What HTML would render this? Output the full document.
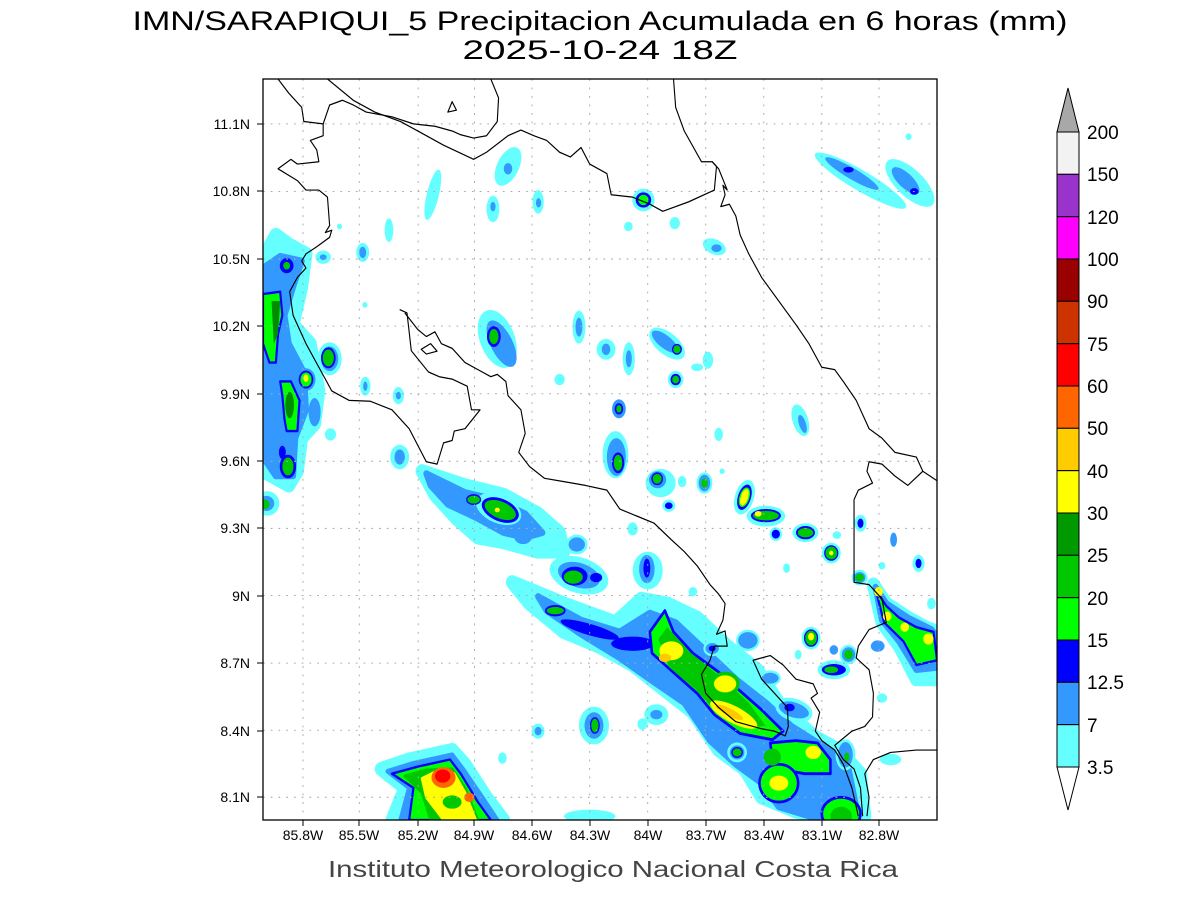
<!DOCTYPE html>
<html><head><meta charset="utf-8"><style>
body{margin:0;background:#fff;}
svg{display:block;font-family:"Liberation Sans",sans-serif;}
</style></head><body>
<svg width="1200" height="900" viewBox="0 0 1200 900" xmlns="http://www.w3.org/2000/svg">
<rect width="1200" height="900" fill="#fff"/>
<text x="600" y="30" font-size="27" text-anchor="middle" fill="#000" textLength="935" lengthAdjust="spacingAndGlyphs">IMN/SARAPIQUI_5 Precipitacion Acumulada en 6 horas (mm)</text>
<text x="600" y="59" font-size="27" text-anchor="middle" fill="#000" textLength="275" lengthAdjust="spacingAndGlyphs">2025-10-24 18Z</text>
<defs><clipPath id="c"><rect x="263" y="79" width="674" height="741"/></clipPath></defs>
<g clip-path="url(#c)">
<g transform="translate(263,79) scale(0.42985,0.47258)" stroke-linejoin="round">
<g stroke-width="30">
<polygon fill="#66ffff" stroke="#66ffff" points="370,830 470,860 560,880 640,920 690,960 700,1000 640,1000 560,980 500,970 450,930 400,880"/>
<polygon fill="#3399ff" stroke="#3399ff" points="380,835 470,875 540,890 610,920 650,960 610,970 560,960 500,930 430,900 390,860" stroke-width="14"/>
<polygon fill="#66ffff" stroke="#66ffff" points="580,1065 700,1110 820,1150 880,1100 940,1110 1010,1140 1080,1200 1150,1250 1200,1320 1280,1390 1340,1420 1390,1470 1400,1560 1330,1568 1240,1550 1160,1520 1120,1460 1060,1420 1000,1340 930,1290 860,1240 780,1200 700,1170 620,1110"/>
<polygon fill="#3399ff" stroke="#3399ff" stroke-width="14" points="640,1095 740,1145 830,1170 900,1130 960,1150 1030,1210 1100,1270 1170,1320 1230,1370 1300,1410 1360,1450 1380,1540 1300,1568 1200,1540 1160,1490 1100,1450 1040,1400 980,1320 900,1270 830,1225 740,1175 660,1125"/>
</g>
<ellipse cx="760" cy="1165" rx="70" ry="12" fill="#0000ff" transform="rotate(15 760 1165)"/>
<ellipse cx="860" cy="1195" rx="50" ry="15" fill="#0000ff"/>
<polygon fill="#00ff00" stroke="#0000ff" stroke-width="6" points="900,1170 935,1125 955,1170 1000,1215 1060,1255 1110,1295 1160,1335 1210,1380 1185,1398 1110,1385 1050,1345 1010,1300 960,1260 905,1215"/>
<polygon fill="#00c800" points="920,1185 940,1160 990,1210 1070,1270 1130,1320 1170,1370 1110,1370 1050,1335 1005,1290 945,1245"/>
<polygon fill="#00ff00" stroke="#0000ff" stroke-width="6" points="1180,1405 1240,1400 1290,1405 1320,1440 1320,1470 1260,1470 1200,1460 1185,1435"/>
<ellipse cx="1200" cy="1490" rx="45" ry="40" fill="#00ff00" stroke="#0000ff" stroke-width="6"/>
<ellipse cx="1345" cy="1555" rx="45" ry="35" fill="#00ff00" stroke="#0000ff" stroke-width="6"/>
<ellipse cx="1345" cy="1560" rx="25" ry="20" fill="#00c800"/>
<ellipse cx="1185" cy="1435" rx="20" ry="18" fill="#00c800"/>
<g stroke-width="30">
<polygon fill="#66ffff" stroke="#66ffff" points="275,1460 340,1440 440,1420 470,1450 520,1520 560,1568 300,1568 330,1500"/>
<polygon fill="#3399ff" stroke="#3399ff" stroke-width="10" points="290,1465 350,1448 440,1430 465,1460 510,1520 545,1568 320,1568 340,1500"/>
<polygon fill="#00ff00" stroke="#0000ff" stroke-width="5" points="300,1470 360,1455 435,1440 460,1470 500,1530 530,1568 340,1568 350,1500"/>
<polygon fill="#00c800" stroke="#00c800" stroke-width="6" points="330,1475 380,1462 440,1460 470,1500 500,1568 390,1568 370,1510"/>
<polygon fill="#ffff00" stroke="#ffff00" stroke-width="6" points="370,1480 410,1462 445,1470 470,1510 495,1568 420,1568 380,1520"/>
</g>
<ellipse cx="420" cy="1478" rx="28" ry="22" fill="#ff6600"/>
<ellipse cx="418" cy="1475" rx="18" ry="14" fill="#ff0000"/>
<ellipse cx="480" cy="1520" rx="12" ry="10" fill="#ff6600"/>
<ellipse cx="440" cy="1530" rx="22" ry="14" fill="#00c800"/>
<!-- left edge strip -->
<g stroke-width="30">
<polygon fill="#66ffff" stroke="#66ffff" points="0,380 30,330 60,350 100,370 90,440 70,520 110,560 130,660 120,730 90,760 80,830 60,860 0,830"/>
<polygon fill="#3399ff" stroke="#3399ff" stroke-width="14" points="0,400 40,375 90,385 70,440 50,500 60,560 95,620 100,700 75,760 70,840 30,840 0,800"/>
</g>
<ellipse cx="55" cy="395" rx="16" ry="16" fill="#0000ff"/><ellipse cx="55" cy="395" rx="8" ry="8" fill="#00c800"/>
<polygon fill="#00ff00" stroke="#0000ff" stroke-width="5" points="0,455 40,450 45,500 35,540 30,600 15,600 0,560"/>
<polygon fill="#00ff00" stroke="#0000ff" stroke-width="5" points="40,640 65,640 85,680 80,745 55,745 50,720 45,670"/>
<polygon fill="#008c00" points="20,470 40,470 35,540 25,560"/>
<ellipse cx="62" cy="690" rx="10" ry="28" fill="#008c00"/>
<ellipse cx="58" cy="820" rx="16" ry="22" fill="#00c800" stroke="#0000ff" stroke-width="6"/>
<ellipse cx="45" cy="790" rx="8" ry="14" fill="#0000ff"/>
<!-- yellow spots in main band -->
<ellipse cx="200" cy="0" rx="0" ry="0"/>
<ellipse cx="950" cy="1210" rx="28" ry="20" fill="#ffff00"/>
<ellipse cx="935" cy="1225" rx="14" ry="9" fill="#ffc800"/>
<ellipse cx="1075" cy="1280" rx="30" ry="22" fill="#ffff00" stroke="#00c800" stroke-width="8"/>
<ellipse cx="1095" cy="1345" rx="60" ry="18" fill="#ffff00" transform="rotate(25 1095 1345)"/>
<ellipse cx="1085" cy="1340" rx="35" ry="8" fill="#ffc800" transform="rotate(25 1085 1340)"/>
<ellipse cx="1200" cy="1490" rx="22" ry="16" fill="#ffff00"/>
<ellipse cx="1280" cy="1425" rx="18" ry="14" fill="#ffff00"/>
<!-- small blobs -->
<g>
<ellipse cx="570" cy="185" rx="25" ry="45" fill="#66ffff" transform="rotate(30 570 185)"/><ellipse cx="570" cy="190" rx="10" ry="12" fill="#3399ff"/>
<ellipse cx="395" cy="245" rx="14" ry="55" fill="#66ffff" transform="rotate(15 395 245)"/>
<ellipse cx="535" cy="275" rx="15" ry="28" fill="#66ffff"/><ellipse cx="535" cy="270" rx="6" ry="10" fill="#3399ff"/>
<ellipse cx="640" cy="260" rx="13" ry="25" fill="#66ffff"/><ellipse cx="641" cy="262" rx="6" ry="10" fill="#3399ff"/>
<ellipse cx="293" cy="320" rx="10" ry="25" fill="#66ffff"/>
<ellipse cx="232" cy="367" rx="15" ry="20" fill="#66ffff"/><ellipse cx="232" cy="367" rx="8" ry="12" fill="#3399ff"/>
<ellipse cx="140" cy="377" rx="18" ry="14" fill="#66ffff"/><ellipse cx="140" cy="377" rx="8" ry="6" fill="#3399ff"/>
<ellipse cx="885" cy="256" rx="26" ry="24" fill="#66ffff"/><ellipse cx="885" cy="256" rx="18" ry="16" fill="#0000ff"/><ellipse cx="885" cy="256" rx="12" ry="11" fill="#00ff00"/>
<ellipse cx="850" cy="312" rx="10" ry="10" fill="#66ffff"/>
<ellipse cx="958" cy="305" rx="12" ry="13" fill="#66ffff"/>
<ellipse cx="1050" cy="355" rx="28" ry="16" fill="#66ffff" transform="rotate(20 1050 355)"/><ellipse cx="1055" cy="358" rx="12" ry="8" fill="#3399ff"/>
<ellipse cx="1390" cy="215" rx="120" ry="22" fill="#66ffff" transform="rotate(28 1390 215)"/><ellipse cx="1370" cy="200" rx="70" ry="12" fill="#3399ff" transform="rotate(28 1370 200)"/><ellipse cx="1362" cy="192" rx="12" ry="6" fill="#0000ff"/>
<ellipse cx="1505" cy="220" rx="70" ry="30" fill="#66ffff" transform="rotate(40 1505 220)"/><ellipse cx="1495" cy="215" rx="40" ry="16" fill="#3399ff" transform="rotate(40 1495 215)"/><ellipse cx="1515" cy="238" rx="10" ry="7" fill="#0000ff"/>
<ellipse cx="1502" cy="122" rx="7" ry="7" fill="#66ffff"/>
<ellipse cx="178" cy="312" rx="6" ry="6" fill="#66ffff"/>
<ellipse cx="155" cy="592" rx="28" ry="35" fill="#66ffff"/><ellipse cx="155" cy="592" rx="20" ry="26" fill="#3399ff"/><ellipse cx="152" cy="590" rx="15" ry="20" fill="#00c800" stroke="#0000ff" stroke-width="4"/>
<ellipse cx="100" cy="636" rx="22" ry="24" fill="#3399ff"/><ellipse cx="100" cy="636" rx="15" ry="17" fill="#00ff00" stroke="#0000ff" stroke-width="4"/><ellipse cx="100" cy="633" rx="6" ry="8" fill="#ffff00"/>
<ellipse cx="120" cy="705" rx="14" ry="30" fill="#3399ff"/>
<ellipse cx="10" cy="898" rx="28" ry="26" fill="#66ffff"/><ellipse cx="8" cy="898" rx="18" ry="16" fill="#3399ff"/><ellipse cx="5" cy="900" rx="10" ry="10" fill="#00c800"/>
<ellipse cx="100" cy="545" rx="10" ry="12" fill="#66ffff"/>
<ellipse cx="238" cy="650" rx="12" ry="20" fill="#66ffff"/><ellipse cx="238" cy="650" rx="5" ry="10" fill="#3399ff"/>
<ellipse cx="315" cy="670" rx="13" ry="18" fill="#66ffff"/><ellipse cx="315" cy="670" rx="6" ry="8" fill="#3399ff"/>
<ellipse cx="157" cy="752" rx="13" ry="13" fill="#66ffff"/>
<ellipse cx="318" cy="800" rx="22" ry="26" fill="#66ffff"/><ellipse cx="318" cy="800" rx="12" ry="16" fill="#3399ff"/>
<ellipse cx="237" cy="478" rx="6" ry="6" fill="#66ffff"/>
<ellipse cx="545" cy="550" rx="40" ry="65" fill="#66ffff" transform="rotate(-25 545 550)"/><ellipse cx="555" cy="560" rx="25" ry="55" fill="#3399ff" transform="rotate(-30 555 560)"/><ellipse cx="537" cy="545" rx="16" ry="22" fill="#0000ff"/><ellipse cx="537" cy="545" rx="11" ry="16" fill="#00c800"/>
<ellipse cx="735" cy="525" rx="15" ry="35" fill="#66ffff"/><ellipse cx="735" cy="525" rx="8" ry="20" fill="#3399ff"/>
<ellipse cx="798" cy="572" rx="22" ry="22" fill="#66ffff"/><ellipse cx="798" cy="572" rx="10" ry="12" fill="#3399ff"/>
<ellipse cx="851" cy="592" rx="14" ry="35" fill="#66ffff"/><ellipse cx="851" cy="592" rx="7" ry="18" fill="#3399ff"/>
<ellipse cx="940" cy="560" rx="48" ry="24" fill="#66ffff" transform="rotate(35 940 560)"/><ellipse cx="935" cy="556" rx="36" ry="14" fill="#3399ff" transform="rotate(35 935 556)"/><ellipse cx="963" cy="572" rx="10" ry="10" fill="#00c800" stroke="#0000ff" stroke-width="3"/>
<ellipse cx="960" cy="636" rx="18" ry="18" fill="#66ffff"/><ellipse cx="960" cy="636" rx="12" ry="12" fill="#0000ff"/><ellipse cx="960" cy="636" rx="8" ry="8" fill="#00c800"/>
<ellipse cx="1010" cy="610" rx="14" ry="8" fill="#66ffff"/>
<ellipse cx="1035" cy="595" rx="12" ry="18" fill="#66ffff"/>
<ellipse cx="690" cy="636" rx="12" ry="12" fill="#66ffff"/>
<ellipse cx="828" cy="698" rx="16" ry="20" fill="#3399ff"/><ellipse cx="828" cy="698" rx="10" ry="12" fill="#0000ff"/><ellipse cx="828" cy="698" rx="6" ry="8" fill="#00c800"/>
<ellipse cx="820" cy="795" rx="30" ry="50" fill="#66ffff"/><ellipse cx="822" cy="800" rx="22" ry="40" fill="#3399ff"/><ellipse cx="826" cy="812" rx="14" ry="22" fill="#0000ff"/><ellipse cx="826" cy="812" rx="10" ry="17" fill="#00c800"/>
<ellipse cx="1060" cy="752" rx="10" ry="14" fill="#66ffff"/>
<ellipse cx="1250" cy="722" rx="18" ry="35" fill="#66ffff" transform="rotate(-20 1250 722)"/><ellipse cx="1255" cy="730" rx="8" ry="20" fill="#3399ff" transform="rotate(-20 1255 730)"/>
<ellipse cx="925" cy="855" rx="35" ry="30" fill="#66ffff"/><ellipse cx="918" cy="848" rx="20" ry="18" fill="#3399ff"/><ellipse cx="917" cy="846" rx="12" ry="12" fill="#00c800" stroke="#0000ff" stroke-width="3"/>
<ellipse cx="944" cy="903" rx="12" ry="10" fill="#0000ff" stroke="#66ffff" stroke-width="6"/>
<ellipse cx="975" cy="852" rx="10" ry="12" fill="#66ffff"/>
<ellipse cx="1027" cy="855" rx="16" ry="20" fill="#3399ff" stroke="#66ffff" stroke-width="5"/><ellipse cx="1027" cy="855" rx="8" ry="10" fill="#00c800"/>
<ellipse cx="1068" cy="830" rx="6" ry="6" fill="#66ffff"/>
<ellipse cx="1120" cy="885" rx="22" ry="38" fill="#66ffff" transform="rotate(20 1120 885)"/><ellipse cx="1120" cy="885" rx="15" ry="28" fill="#0000ff" transform="rotate(20 1120 885)"/><ellipse cx="1120" cy="885" rx="10" ry="20" fill="#ffff00" stroke="#00ff00" stroke-width="3" transform="rotate(20 1120 885)"/>
<ellipse cx="1170" cy="925" rx="45" ry="22" fill="#66ffff"/><ellipse cx="1170" cy="924" rx="35" ry="14" fill="#0000ff"/><ellipse cx="1170" cy="924" rx="30" ry="10" fill="#00c800"/><ellipse cx="1152" cy="920" rx="8" ry="6" fill="#ffff00"/>
<ellipse cx="1193" cy="963" rx="12" ry="12" fill="#0000ff" stroke="#66ffff" stroke-width="5"/>
<ellipse cx="1262" cy="960" rx="30" ry="20" fill="#66ffff"/><ellipse cx="1262" cy="960" rx="22" ry="14" fill="#0000ff"/><ellipse cx="1262" cy="960" rx="18" ry="10" fill="#00c800"/>
<ellipse cx="1322" cy="1003" rx="22" ry="22" fill="#66ffff"/><ellipse cx="1322" cy="1003" rx="15" ry="15" fill="#00c800" stroke="#0000ff" stroke-width="3"/><ellipse cx="1322" cy="1003" rx="5" ry="5" fill="#ffff00"/>
<ellipse cx="1335" cy="965" rx="10" ry="8" fill="#66ffff"/>
<ellipse cx="1390" cy="940" rx="14" ry="18" fill="#66ffff"/><ellipse cx="1390" cy="940" rx="7" ry="10" fill="#0000ff"/>
<ellipse cx="1467" cy="975" rx="8" ry="15" fill="#3399ff"/>
<ellipse cx="1525" cy="1025" rx="14" ry="18" fill="#66ffff"/><ellipse cx="1525" cy="1025" rx="7" ry="10" fill="#0000ff"/>
<ellipse cx="1440" cy="1030" rx="8" ry="8" fill="#66ffff"/>
<ellipse cx="1218" cy="1035" rx="8" ry="10" fill="#66ffff"/>
<ellipse cx="1555" cy="1110" rx="10" ry="12" fill="#66ffff"/>
<ellipse cx="1388" cy="1055" rx="16" ry="14" fill="#3399ff" stroke="#66ffff" stroke-width="5"/><ellipse cx="1388" cy="1055" rx="10" ry="8" fill="#00c800"/>
<polygon fill="#66ffff" stroke="#66ffff" stroke-width="30" points="1420,1070 1450,1110 1500,1140 1540,1160 1568,1170 1568,1270 1520,1270 1480,1200 1440,1150"/>
<polygon fill="#3399ff" stroke="#3399ff" stroke-width="14" points="1425,1075 1450,1110 1500,1140 1555,1165 1568,1180 1568,1245 1520,1250 1480,1190 1440,1145"/>
<polygon fill="#00ff00" stroke="#0000ff" stroke-width="5" points="1425,1080 1450,1115 1480,1140 1520,1160 1560,1170 1568,1230 1520,1240 1490,1190 1445,1150"/>
<ellipse cx="1432" cy="1085" rx="10" ry="10" fill="#ffff00"/><ellipse cx="1452" cy="1137" rx="10" ry="10" fill="#ffff00"/><ellipse cx="1493" cy="1160" rx="10" ry="10" fill="#ffff00"/><ellipse cx="1548" cy="1185" rx="12" ry="12" fill="#ffff00"/>
<ellipse cx="1275" cy="1183" rx="22" ry="24" fill="#66ffff"/><ellipse cx="1275" cy="1183" rx="15" ry="17" fill="#00c800" stroke="#0000ff" stroke-width="3"/><ellipse cx="1275" cy="1180" rx="7" ry="8" fill="#ffff00"/>
<ellipse cx="1328" cy="1208" rx="10" ry="10" fill="#3399ff"/>
<ellipse cx="1362" cy="1218" rx="18" ry="18" fill="#3399ff" stroke="#66ffff" stroke-width="5"/><ellipse cx="1362" cy="1218" rx="10" ry="10" fill="#00c800"/>
<ellipse cx="1430" cy="1200" rx="16" ry="12" fill="#3399ff"/>
<ellipse cx="1328" cy="1250" rx="38" ry="20" fill="#66ffff"/><ellipse cx="1328" cy="1250" rx="28" ry="12" fill="#0000ff"/><ellipse cx="1322" cy="1250" rx="16" ry="7" fill="#00c800"/>
<ellipse cx="1245" cy="1218" rx="8" ry="10" fill="#66ffff"/>
<ellipse cx="1128" cy="1188" rx="25" ry="20" fill="#3399ff" stroke="#66ffff" stroke-width="5"/>
<ellipse cx="1180" cy="1268" rx="22" ry="14" fill="#3399ff" stroke="#66ffff" stroke-width="5"/>
<ellipse cx="1235" cy="1335" rx="40" ry="20" fill="#3399ff" stroke="#66ffff" stroke-width="8" transform="rotate(15 1235 1335)"/><ellipse cx="1225" cy="1330" rx="12" ry="8" fill="#0000ff"/>
<ellipse cx="1440" cy="1310" rx="12" ry="10" fill="#66ffff"/>
<ellipse cx="1460" cy="1440" rx="25" ry="12" fill="#66ffff"/>
<ellipse cx="1045" cy="1205" rx="18" ry="14" fill="#3399ff" stroke="#66ffff" stroke-width="5"/><ellipse cx="1045" cy="1205" rx="8" ry="6" fill="#0000ff"/>
<ellipse cx="1000" cy="1085" rx="10" ry="10" fill="#66ffff"/>
<ellipse cx="895" cy="1040" rx="35" ry="40" fill="#66ffff"/><ellipse cx="893" cy="1037" rx="18" ry="30" fill="#3399ff"/><ellipse cx="893" cy="1035" rx="8" ry="20" fill="#0000ff"/>
<ellipse cx="735" cy="1050" rx="70" ry="38" fill="#66ffff" transform="rotate(15 735 1050)"/><ellipse cx="735" cy="1050" rx="50" ry="26" fill="#3399ff" transform="rotate(15 735 1050)"/><ellipse cx="725" cy="1052" rx="30" ry="20" fill="#0000ff"/><ellipse cx="722" cy="1054" rx="22" ry="14" fill="#00c800"/><ellipse cx="775" cy="1055" rx="14" ry="10" fill="#0000ff"/>
<ellipse cx="730" cy="985" rx="22" ry="18" fill="#3399ff" stroke="#66ffff" stroke-width="6"/>
<ellipse cx="860" cy="952" rx="12" ry="14" fill="#66ffff"/>
<ellipse cx="548" cy="910" rx="55" ry="30" fill="#66ffff" transform="rotate(20 548 910)"/><ellipse cx="552" cy="912" rx="45" ry="24" fill="#0000ff" transform="rotate(20 552 912)"/><ellipse cx="552" cy="912" rx="38" ry="18" fill="#00c800" transform="rotate(20 552 912)"/><ellipse cx="545" cy="912" rx="6" ry="5" fill="#ffff00"/>
<ellipse cx="490" cy="890" rx="16" ry="10" fill="#00c800" stroke="#0000ff" stroke-width="3"/>
<ellipse cx="605" cy="970" rx="20" ry="14" fill="#3399ff"/>
<ellipse cx="680" cy="1125" rx="22" ry="10" fill="#00c800" stroke="#0000ff" stroke-width="4"/>
<ellipse cx="770" cy="1368" rx="35" ry="40" fill="#66ffff"/><ellipse cx="770" cy="1368" rx="22" ry="28" fill="#3399ff"/><ellipse cx="772" cy="1368" rx="10" ry="16" fill="#00c800" stroke="#0000ff" stroke-width="3"/>
<ellipse cx="915" cy="1345" rx="28" ry="22" fill="#66ffff"/><ellipse cx="915" cy="1345" rx="14" ry="10" fill="#3399ff"/>
<ellipse cx="883" cy="1365" rx="12" ry="12" fill="#66ffff"/>
<ellipse cx="640" cy="1380" rx="15" ry="16" fill="#66ffff"/><ellipse cx="640" cy="1380" rx="8" ry="9" fill="#3399ff"/>
<ellipse cx="557" cy="1437" rx="10" ry="12" fill="#66ffff"/>
<ellipse cx="1103" cy="1425" rx="20" ry="18" fill="#3399ff" stroke="#66ffff" stroke-width="6"/><ellipse cx="1103" cy="1425" rx="12" ry="10" fill="#00c800" stroke="#0000ff" stroke-width="3"/>
<ellipse cx="1355" cy="1430" rx="20" ry="30" fill="#3399ff" stroke="#66ffff" stroke-width="6"/><ellipse cx="1358" cy="1435" rx="6" ry="10" fill="#00c800"/>
<ellipse cx="760" cy="1560" rx="60" ry="14" fill="#66ffff"/>
</g>
<!-- grid -->
<g stroke="#aaa" stroke-width="2.2" stroke-dasharray="4,14" fill="none">
<path d="M93,0V1568M224,0V1568M361,0V1568M492,0V1568M626,0V1568M760,0V1568M895,0V1568M1030,0V1568M1165,0V1568M1300,0V1568M1433,0V1568"/>
<path d="M0,95H1568M0,238H1568M0,381H1568M0,523H1568M0,666H1568M0,809H1568M0,951H1568M0,1093H1568M0,1236H1568M0,1378H1568M0,1520H1568"/>
</g>
<!-- coastlines -->
<g fill="none" stroke="#000" stroke-width="2.6">
<polyline points="35,0 60,30 90,60 95,90 140,95 155,55 185,45 210,55 240,70 300,80 350,95 400,100 440,110 460,118 490,125 520,120 545,90 548,40 530,0"/>
<polyline points="150,0 210,45 260,70 320,90 360,110 420,140 490,170 520,155 570,120 600,108 630,120 660,130 690,155 715,165 740,145 760,180 800,200 810,245 860,250 900,265 930,280 990,260 1050,235 1055,185 1045,175"/>
<polyline points="955,0 960,60 980,110 1020,175 1045,175 1060,190 1080,235 1070,225 1075,245 1065,270 1085,265 1100,290 1110,330 1130,370 1160,420 1200,470 1240,520 1270,560 1300,610 1330,615 1350,640 1380,680 1410,740 1440,760 1470,790 1520,800 1535,830 1568,850"/>
<polyline points="1535,830 1500,860 1470,840 1440,815 1410,810 1405,830 1418,855 1385,870 1375,890 1375,1065 1410,1070 1440,1100 1450,1150 1410,1165 1385,1200 1380,1225 1410,1250 1420,1300 1418,1350 1400,1370 1370,1380 1330,1410 1350,1440 1375,1460 1390,1500 1395,1560"/>
<polyline points="1405,1560 1410,1520 1400,1470 1420,1440 1460,1425 1520,1420 1568,1420"/>
<polyline points="140,95 140,120 110,130 125,150 130,175 80,180 65,170 35,190 80,215 100,235 130,235 150,250 155,310 145,325 160,320 155,335 125,355 100,370 90,385 100,400 80,420 62,450 70,500 100,560 130,610 160,660 200,680 250,682 300,700 340,740 380,810 405,815 420,770 440,765 445,745 470,740 505,700 485,700 475,650 440,635 410,630 385,620 345,575 335,495 318,488"/>
<polyline points="330,495 360,530 380,545 400,535 415,560 440,570 470,600 500,615 530,630 545,625 565,640 570,670 600,700 610,750 595,790 620,820 655,845 700,852 750,860 800,870 830,910 870,925 910,940 950,975 980,1000 1010,1030 1040,1070 1060,1090 1075,1110 1070,1145 1055,1175 1075,1168 1080,1200 1050,1200 1040,1230 1020,1260 1030,1300 1060,1330 1100,1360 1160,1375 1190,1380 1215,1390 1222,1370 1220,1330 1190,1300 1160,1270 1140,1230 1180,1220 1210,1240 1240,1270 1280,1280 1290,1300 1275,1310 1295,1340 1285,1380 1300,1400 1330,1420 1350,1450 1370,1500 1385,1560"/>
<polygon points="368,572 390,560 405,576 380,582"/>
<polygon points="430,70 440,48 450,66"/>
</g>
</g>
</g>
<rect x="263" y="79" width="674" height="741" fill="none" stroke="#000" stroke-width="1.3"/>
<g stroke="#000" stroke-width="1">
<path d="M303,820v6M359,820v6M418,820v6M474,820v6M532,820v6M590,820v6M648,820v6M706,820v6M764,820v6M822,820v6M879,820v6"/>
<path d="M263,124h-6M263,191h-6M263,259h-6M263,326h-6M263,394h-6M263,461h-6M263,528h-6M263,596h-6M263,663h-6M263,731h-6M263,797h-6"/>
</g>
<g font-size="14" fill="#000" text-anchor="middle">
<text x="303" y="840">85.8W</text><text x="359" y="840">85.5W</text><text x="418" y="840">85.2W</text><text x="474" y="840">84.9W</text><text x="532" y="840">84.6W</text><text x="590" y="840">84.3W</text><text x="648" y="840">84W</text><text x="706" y="840">83.7W</text><text x="764" y="840">83.4W</text><text x="822" y="840">83.1W</text><text x="879" y="840">82.8W</text>
</g>
<g font-size="14" fill="#000" text-anchor="end">
<text x="250" y="129">11.1N</text><text x="250" y="196">10.8N</text><text x="250" y="264">10.5N</text><text x="250" y="331">10.2N</text><text x="250" y="399">9.9N</text><text x="250" y="466">9.6N</text><text x="250" y="533">9.3N</text><text x="250" y="601">9N</text><text x="250" y="668">8.7N</text><text x="250" y="736">8.4N</text><text x="250" y="802">8.1N</text>
</g>
<text x="613" y="877" font-size="23" text-anchor="middle" fill="#444" textLength="570" lengthAdjust="spacingAndGlyphs">Instituto Meteorologico Nacional Costa Rica</text>
<g stroke="#000" stroke-width="1">
<polygon points="1057,132 1068,88 1079,132" fill="#a8a8a8"/>
<rect x="1057" y="132" width="22" height="42.3" fill="#f2f2f2"/>
<rect x="1057" y="174.3" width="22" height="42.3" fill="#9933cc"/>
<rect x="1057" y="216.7" width="22" height="42.3" fill="#ff00ff"/>
<rect x="1057" y="259" width="22" height="42.3" fill="#990000"/>
<rect x="1057" y="301.3" width="22" height="42.3" fill="#cc3300"/>
<rect x="1057" y="343.7" width="22" height="42.3" fill="#ff0000"/>
<rect x="1057" y="386" width="22" height="42.3" fill="#ff6600"/>
<rect x="1057" y="428.3" width="22" height="42.3" fill="#ffcc00"/>
<rect x="1057" y="470.7" width="22" height="42.3" fill="#ffff00"/>
<rect x="1057" y="513" width="22" height="42.3" fill="#009900"/>
<rect x="1057" y="555.3" width="22" height="42.3" fill="#00c800"/>
<rect x="1057" y="597.7" width="22" height="42.3" fill="#00ff00"/>
<rect x="1057" y="640" width="22" height="42.3" fill="#0000ff"/>
<rect x="1057" y="682.3" width="22" height="42.3" fill="#3399ff"/>
<rect x="1057" y="724.7" width="22" height="42.3" fill="#66ffff"/>
<polygon points="1057,767 1068,810 1079,767" fill="#fff"/>
</g>
<g font-size="19" fill="#000">
<text x="1087" y="139">200</text><text x="1087" y="181">150</text><text x="1087" y="224">120</text><text x="1087" y="266">100</text><text x="1087" y="308">90</text><text x="1087" y="351">75</text><text x="1087" y="393">60</text><text x="1087" y="435">50</text><text x="1087" y="478">40</text><text x="1087" y="520">30</text><text x="1087" y="562">25</text><text x="1087" y="605">20</text><text x="1087" y="647">15</text><text x="1087" y="689">12.5</text><text x="1087" y="732">7</text><text x="1087" y="774">3.5</text>
</g>
</svg>
</body></html>
